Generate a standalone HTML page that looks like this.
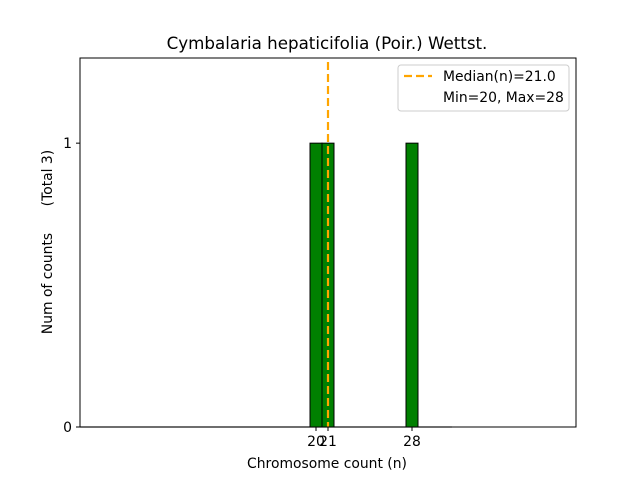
<!DOCTYPE html>
<html><head><meta charset="utf-8"><style>
body{margin:0;background:#fff}
svg{display:block;font-family:"DejaVu Sans","Liberation Sans",sans-serif}
</style></head><body>
<svg id="c" width="640" height="480">
<rect width="640" height="480" fill="#fff"/>
<text x="327" y="49" font-size="16.7" text-anchor="middle">Cymbalaria hepaticifolia (Poir.) Wettst.</text>
<g id="marks"></g>
<rect x="80" y="58" width="496" height="369" fill="none" stroke="#000" stroke-width="1"/>
<text x="327" y="468" font-size="13.9" text-anchor="middle">Chromosome count (n)</text>
<text transform="translate(52,242) rotate(-90)" font-size="13.9" text-anchor="middle" xml:space="preserve">Num of counts      (Total 3)</text>
<g>
<rect x="398" y="65" width="171" height="46" rx="3" fill="#fff" stroke="#ccc"/>
<line x1="404" y1="76" x2="432" y2="76" stroke="orange" stroke-width="2.2" stroke-dasharray="8,4"/>
<text x="443" y="81" font-size="13.9">Median(n)=21.0</text>
<text x="443" y="102" font-size="13.9">Min=20, Max=28</text>
</g>
</svg>
<script>
const categories=[20,21,28];
const counts=[1,1,1];
const median=21.0;
const yTicks=[0,1];
const L=80,R=576,T=58,B=427;
const xmin=20-236/12, xmax=20+260/12, ymin=0, ymax=1.3;
const X=v=>L+(v-xmin)/(xmax-xmin)*(R-L);
const Y=v=>B-(v-ymin)/(ymax-ymin)*(B-T);
const NS="http://www.w3.org/2000/svg";
const g=document.getElementById('marks');
function mk(t,a){const e=document.createElementNS(NS,t);for(const k in a)e.setAttribute(k,a[k]);g.appendChild(e);return e;}
const base=mk('line',{x1:L,y1:B,x2:X(31.33),y2:B,stroke:'#bbb','stroke-width':1.5});


categories.forEach((c,i)=>{
  const b=mk('rect',{x:X(c-0.5),y:Y(counts[i]),width:X(c+0.5)-X(c-0.5),height:Y(0)-Y(counts[i]),fill:'green',stroke:'#000','stroke-width':1});
  
  
  const t=mk('line',{x1:X(c),y1:B,x2:X(c),y2:B+4,stroke:'#000'});
  
  
  const l=mk('text',{x:X(c),y:B+19,'font-size':13.9,'text-anchor':'middle'});
  l.textContent=c;
  
  
});
yTicks.forEach(v=>{
  const t=mk('line',{x1:L-4,y1:Y(v),x2:L,y2:Y(v),stroke:'#000'});
  
  
  const l=mk('text',{x:L-8,y:Y(v)+5,'font-size':13.9,'text-anchor':'end'});
  l.textContent=v;
  
  
});
const m=mk('line',{x1:X(median),y1:62,x2:X(median),y2:B,stroke:'orange','stroke-width':2.2,'stroke-dasharray':'8,4'});


</script>
</body></html>
